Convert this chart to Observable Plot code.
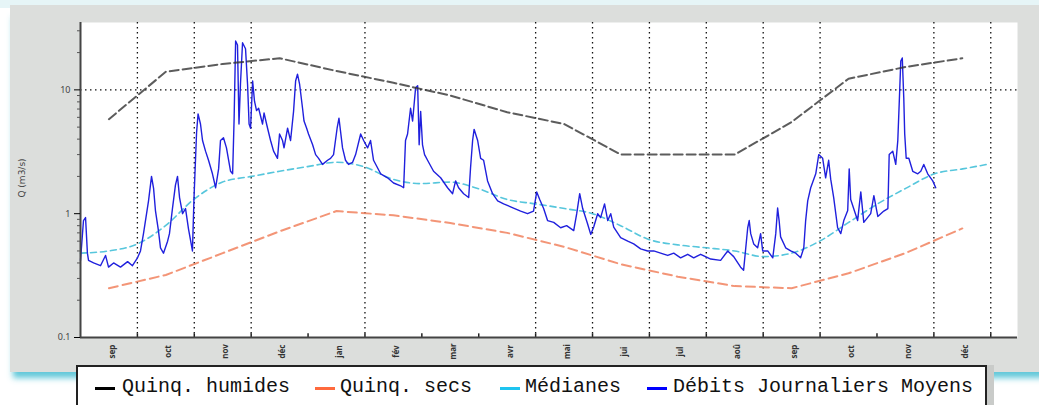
<!DOCTYPE html>
<html><head><meta charset="utf-8">
<script src="https://cdn.jsdelivr.net/npm/d3@7"></script>
<script src="https://cdn.jsdelivr.net/npm/@observablehq/plot@0.6"></script>
<style>
body{margin:0;background:#fff;width:1039px;height:405px;overflow:hidden;position:relative;font-family:"DejaVu Sans",sans-serif}
#topglow{position:absolute;left:0;top:0;width:1039px;height:8px;background:#e6f5f7}
#panel{position:absolute;left:10px;top:5px;width:1040px;height:367px;background:#dcdedc;box-shadow:0 9px 6px -3px rgba(70,190,210,0.85)}
#chart{position:absolute;left:0;top:0}
#ytitle{position:absolute;left:22px;top:178px;transform:translate(-50%,-50%) rotate(-90deg);font-size:9px;color:#444;white-space:nowrap}
#legend{position:absolute;left:76px;top:365px;width:907px;height:50px;background:#fff;border:2px solid #222;font-family:"Liberation Mono",monospace;font-size:20px;color:#111;box-shadow:7px 0 0 #c9cbc9}
.sw{position:absolute;top:20px;height:3px}
.tx{position:absolute;top:10px;line-height:20px;white-space:nowrap}
</style></head>
<body>
<div id="topglow"></div>
<div id="panel"></div>
<div id="chart"></div>
<div id="ytitle">Q (m3/s)</div>
<div id="legend"></div>
<script>
// ---------- data ----------
const monthLabels = ["sep","oct","nov","déc","jan","fév","mar","avr","mai","jui","jul","aoû","sep","oct","nov","déc"];
const monthLen = 30.44;
const gridMonths = [1,2,3,5,8,9,10,11,12,13,15,16];
const quinqHumides = [5.8,14.0,16.2,18.0,14.2,11.4,9.0,6.6,5.3,3.0,3.0,3.0,5.5,12.3,15.3,18.0];
const quinqSecs = [0.25,0.32,0.48,0.72,1.05,0.97,0.84,0.70,0.54,0.39,0.31,0.26,0.25,0.33,0.48,0.76];
const medianDays = [0,15,30.5,45.5,60.5,76,91.5,106.5,121.5,137,151.5,167,182,197.5,212.5,228.5,243.5,259,274,289,304,319.5,335,350,365.5,380.5,395.5,411,426.5,441.5,457,472,485];
const medianQ = [0.48,0.50,0.57,0.80,1.3,1.8,2.0,2.2,2.4,2.6,2.4,1.9,1.75,1.8,1.6,1.3,1.2,1.1,1.0,0.8,0.62,0.56,0.53,0.50,0.45,0.48,0.60,0.85,1.2,1.6,2.1,2.3,2.5];
const dailyDays = [0,1.6,2.7,3.7,4.3,7.0,10.7,13.4,15.0,17.7,21.4,25.2,27.8,30.5,32.1,33.7,36.4,38.0,39.1,40.1,41.7,42.8,44.4,46.6,47.6,49.2,50.8,51.9,53.0,54.6,56.2,57.8,59.9,60.7,62.1,62.9,64.2,65.3,66.9,68.5,70.6,72.3,73.9,74.9,76.5,78.1,80.3,81.4,82.2,83.0,84.0,84.8,85.6,86.7,88.3,89.4,90.2,91.0,92.1,93.1,94.2,95.3,97.4,98.2,100.1,101.7,103.3,105.4,106.5,108.1,108.9,110.8,112.4,114.0,115.1,116.1,117.2,118.8,119.6,121.0,122.0,124.2,125.8,127.4,129.5,132.2,133.8,135.4,137.3,138.3,140.2,141.8,143.4,145.6,147.2,149.9,151.5,153.6,155.2,156.8,160.6,164.3,167.5,171.3,172.9,173.9,175.0,176.6,177.7,179.3,180.4,181.2,182.0,183.0,184.1,185.7,188.9,192.7,196.4,199.1,200.7,202.3,205.0,207.7,208.7,209.8,210.6,212.5,214.1,215.7,217.8,220.5,223.2,226.4,231.7,235.5,239.2,242.4,244.1,245.7,247.8,249.9,253.2,256.9,260.1,263.9,265.5,267.1,268.7,271.3,273.0,274.6,276.7,278.3,280.4,282.1,283.7,285.3,289.0,292.8,296.0,299.7,303.5,306.7,310.4,314.2,317.4,321.1,324.9,328.1,331.8,337.2,342.5,346.3,349.5,353.2,354.8,357.0,357.8,358.6,360.2,362.3,363.9,365.0,367.7,370.4,372.0,373.0,373.8,374.6,377.3,380.0,382.7,385.3,387.0,388.0,389.1,390.7,393.4,395.0,397.1,398.7,400.3,401.4,403.0,405.1,406.8,408.4,410.5,411.3,412.1,415.8,417.5,419.1,422.8,424.5,426.6,429.8,432.0,432.7,434.6,436.2,437.3,438.1,438.9,439.7,440.5,441.0,441.8,443.2,445.3,448.0,449.6,451.2,453.3,456.0,457.6];
const dailyQ = [0.42,0.88,0.93,0.48,0.42,0.40,0.38,0.46,0.37,0.40,0.37,0.41,0.38,0.44,0.50,0.69,1.27,2.0,1.6,1.06,0.73,0.53,0.48,0.60,0.69,1.1,1.7,2.0,1.35,1.0,1.1,0.75,0.50,1.3,4.5,6.4,5.3,3.9,3.2,2.7,2.1,1.62,2.3,3.9,4.1,3.4,2.2,2.1,5.9,24.8,23,5.3,11.2,24,21.5,11,5.3,4.9,11.8,8.1,6.8,7.1,5.3,6.5,4.9,3.9,3.2,2.8,4.4,3.9,3.4,4.9,3.9,6.7,11.8,13.4,11.2,7.1,5.6,4.9,4.4,3.6,3.0,2.8,2.5,2.7,2.8,3.0,4.9,5.9,3.4,2.7,2.5,2.6,3.0,4.4,3.9,3.4,3.9,2.7,2.1,1.95,1.77,1.68,1.62,3.9,4.4,7.1,5.6,10.4,10.8,3.6,6.7,3.6,3.0,2.7,2.2,1.95,1.62,1.45,1.84,1.62,1.45,1.35,2.35,3.9,4.8,3.9,2.8,2.7,1.84,1.45,1.27,1.2,1.11,1.05,1.0,1.05,1.5,1.3,1.1,0.88,0.85,0.77,0.8,0.73,1.0,1.45,1.1,0.83,0.68,0.78,1.0,0.93,1.2,0.88,1.0,0.78,0.64,0.60,0.57,0.52,0.50,0.50,0.48,0.46,0.48,0.44,0.47,0.44,0.47,0.43,0.42,0.50,0.45,0.37,0.35,0.77,0.88,0.69,0.57,0.53,0.69,0.50,0.50,0.44,0.69,1.11,0.88,0.65,0.53,0.50,0.48,0.44,0.53,0.88,1.27,1.62,2.1,3.0,2.8,1.95,2.7,1.9,1.35,0.77,0.69,0.88,1.06,2.3,1.3,0.88,1.5,0.85,1.0,1.4,0.95,1.05,1.1,3.0,3.2,2.5,3.9,8.1,17.1,18.1,8.6,4.4,2.8,2.8,2.2,2.1,2.2,2.5,2.1,1.84,1.62];
const yMajor = [0.1, 1, 10];
const yMinor = [0.2,0.3,0.4,0.5,0.6,0.7,0.8,0.9,2,3,4,5,6,7,8,9,20,30];

// ---------- build ----------
const monthCenters = monthLabels.map((_, i) => (i + 0.5) * monthLen);
const quinq = quinqHumides.map((v, i) => ({x: monthCenters[i], hum: v, sec: quinqSecs[i]}));
const median = medianDays.map((d, i) => ({x: d, q: medianQ[i]}));
const daily = dailyDays.map((d, i) => ({x: d, q: dailyQ[i]}));
const gridDays = gridMonths.map(m => m * monthLen);
const boundaries = d3.range(1, 17).map(m => m * monthLen);
const xMax = 16.47 * monthLen;

const chart = Plot.plot({
  width: 1039, height: 370,
  marginLeft: 80, marginRight: 22, marginTop: 22, marginBottom: 33,
  style: {background: "transparent", overflow: "visible"},
  x: {domain: [0, xMax], axis: null},
  y: {type: "log", domain: [0.1, 35], axis: null},
  marks: [
    Plot.frame({fill: "white", stroke: "none"}),
    Plot.ruleX(gridDays, {stroke: "#111", strokeWidth: 1.3, strokeDasharray: "1.5,3.5"}),
    Plot.ruleY([10], {stroke: "#111", strokeWidth: 1.3, strokeDasharray: "1.5,3.5"}),
    Plot.line(quinq, {x: "x", y: "sec", stroke: "#f07a55", strokeWidth: 2, strokeOpacity: 0.8, strokeDasharray: "9,5"}),
    Plot.line(median, {x: "x", y: "q", stroke: "#38bcd6", strokeWidth: 1.6, strokeOpacity: 0.85, strokeDasharray: "6,4", curve: "monotone-x"}),
    Plot.line(daily, {x: "x", y: "q", stroke: "#2020dd", strokeWidth: 1.4}),
    Plot.line(quinq, {x: "x", y: "hum", stroke: "#333", strokeWidth: 2, strokeOpacity: 0.8, strokeDasharray: "9,4"}),
    Plot.ruleX(boundaries, {y1: 0.1, y2: 0.107, stroke: "#222", strokeWidth: 1.5}),
    Plot.ruleX([0], {stroke: "#444", strokeWidth: 2}),
    Plot.ruleY([0.1], {stroke: "#444", strokeWidth: 2}),
    Plot.axisY({ticks: yMajor, tickSize: 6, tickPadding: 4, tickFormat: d => String(d), fontSize: 9, fill: "#444", label: null}),
    Plot.axisY({ticks: yMinor, tickSize: 3, tickFormat: () => "", label: null, stroke: "#555"}),
    Plot.text(monthLabels, {x: (d, i) => monthCenters[i], y: () => 0.1, dy: 14, dx: 3, rotate: -90, fontSize: 8, fontWeight: "bold", fill: "#333"})
  ]
});
document.getElementById("chart").appendChild(chart);

// legend
const legendItems = [
  {label: "Quinq. humides", color: "#000", sx: 17, tx: 44},
  {label: "Quinq. secs", color: "#ff6a3d", sx: 237, tx: 262},
  {label: "Médianes", color: "#1ec4f0", sx: 422, tx: 447},
  {label: "Débits Journaliers Moyens", color: "#0000ff", sx: 569, tx: 595}
];
const lg = document.getElementById("legend");
for (const it of legendItems) {
  const s = document.createElement("div");
  s.className = "sw"; s.style.left = it.sx + "px"; s.style.width = "20px"; s.style.background = it.color;
  lg.appendChild(s);
  const t = document.createElement("div");
  t.className = "tx"; t.style.left = it.tx + "px"; t.textContent = it.label;
  lg.appendChild(t);
}
</script>
</body></html>
